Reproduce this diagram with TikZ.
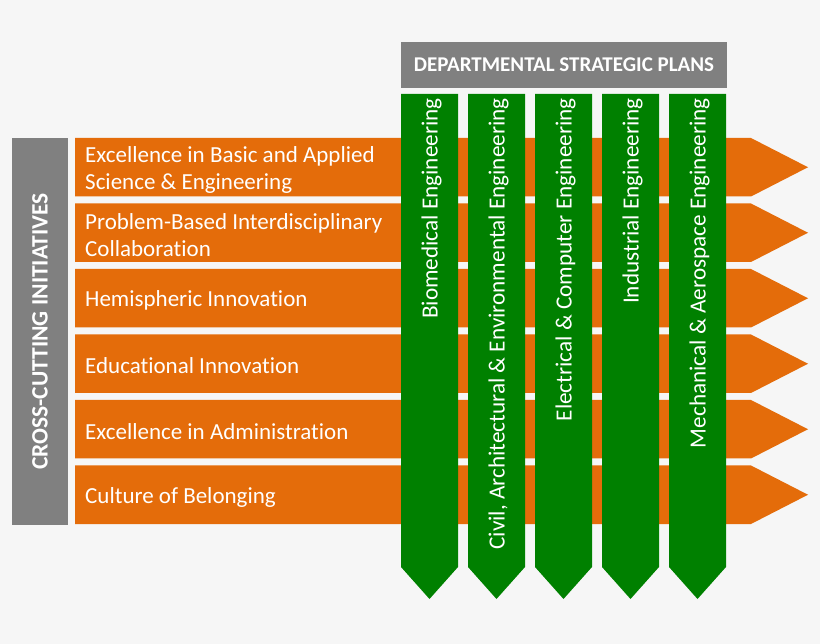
\documentclass[tikz,border=0pt]{standalone}
\usepackage{fontspec}
\setmainfont[Ligatures=NoCommon]{Carlito}
\definecolor{initorange}{RGB}{228,108,10}
\definecolor{deptgreen}{RGB}{0,128,0}
\definecolor{bargray}{RGB}{128,128,128}
\definecolor{paper}{RGB}{246,246,246}
\begin{document}
\begin{tikzpicture}[x=1pt,y=-1pt,
    initiative/.style={anchor=west,inner sep=0pt,text=white,align=left,font=\fontsize{23}{27}\selectfont},
    dept/.style={rotate=90,anchor=east,inner sep=0pt,text=white,font=\fontsize{23.2}{27}\selectfont},
    banner/.style={fill=bargray,text=white,inner sep=0pt,font=\bfseries\fontsize{21}{25}\selectfont}]
  \fill[paper] (0,0) rectangle (820,644);
  % initiatives (orange arrows)
  \foreach \i/\txt in {0/{Excellence in Basic and Applied\\Science \& Engineering},
      1/{Problem-Based Interdisciplinary\\Collaboration},
      2/{Hemispheric Innovation},
      3/{Educational Innovation},
      4/{Excellence in Administration},
      5/{Culture of Belonging}}
  {
    \fill[initorange] (75,138+65.5*\i) -- ++(676,0) -- ++(57,29.25) -- ++(-57,29.25) -- ++(-676,0) -- cycle;
    \node[initiative] (init\i) at (85,169.5+65.5*\i) {\txt};
  }
  % departments (green columns)
  \foreach \j/\txt in {0/Biomedical Engineering,
      1/{Civil, Architectural \& Environmental Engineering},
      2/Electrical \& Computer Engineering,
      3/Industrial Engineering,
      4/Mechanical \& Aerospace Engineering}
  {
    \fill[deptgreen] (401+67*\j,94) -- ++(57,0) -- ++(0,473) -- ++(-28.5,32) -- ++(-28.5,-32) -- cycle;
    \node[dept] (dept\j) at (431.5+67*\j,98) {\txt};
  }
  \node[banner,minimum width=326pt,minimum height=46pt] (plans) at (564,65) {DEPARTMENTAL STRATEGIC PLANS};
  \node[banner,rotate=90,minimum width=387pt,minimum height=56pt,font=\bfseries\fontsize{23.5}{27}\selectfont] (cross) at (40,331.5) {CROSS-CUTTING INITIATIVES};
\end{tikzpicture}
\end{document}
